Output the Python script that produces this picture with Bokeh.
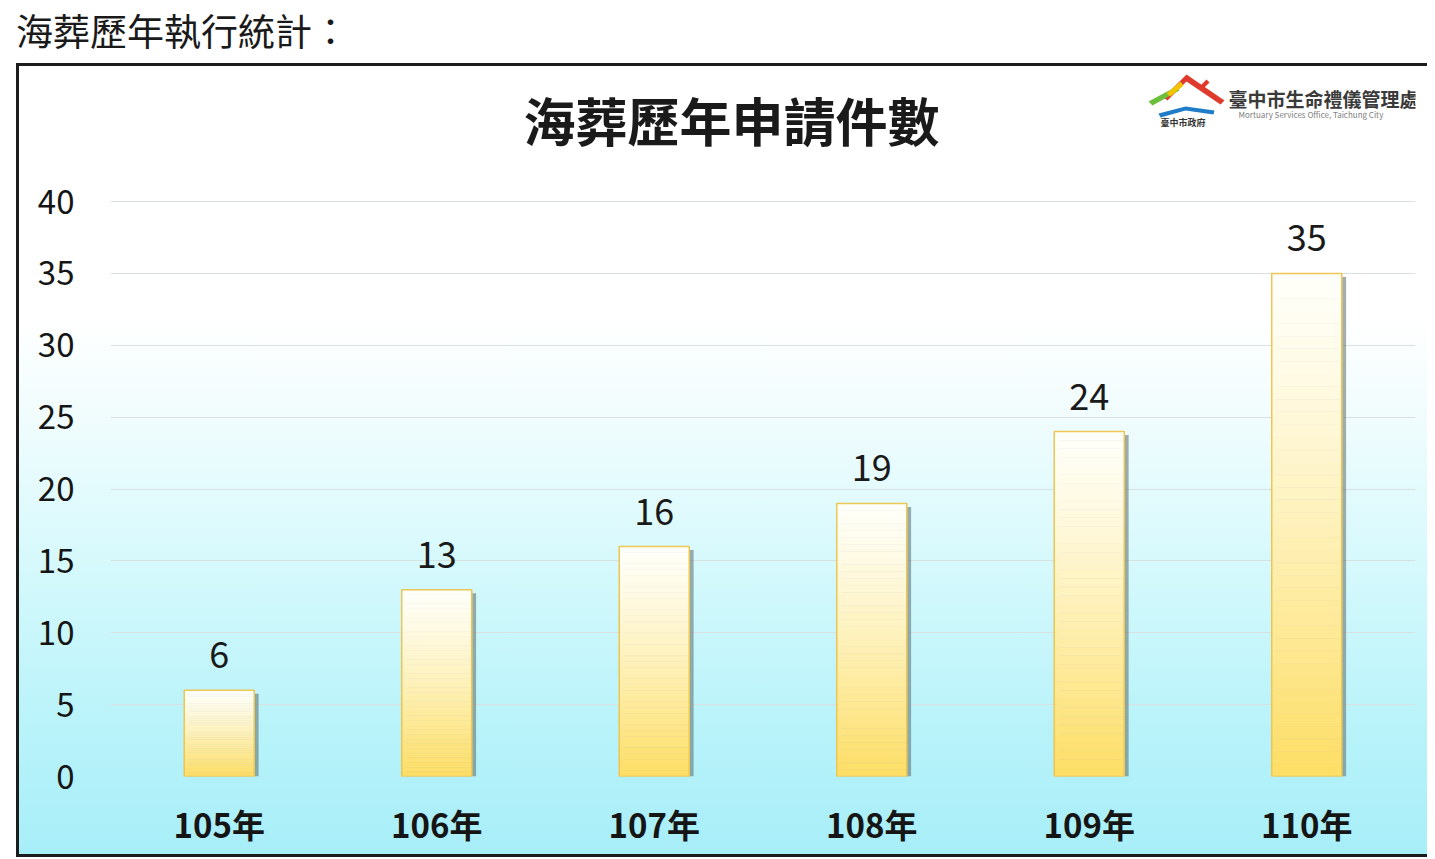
from bokeh.plotting import figure
from bokeh.models import Div, FactorRange, Range1d, FixedTicker, Label, PolyAnnotation
from bokeh.transform import dodge
from bokeh.layouts import column
from bokeh.core.properties import value
from bokeh.embed import file_html
from bokeh.resources import INLINE

# ---- data ----
years = ["105年", "106年", "107年", "108年", "109年", "110年"]
counts = [6, 13, 16, 19, 24, 35]
y_ticks = [0, 5, 10, 15, 20, 25, 30, 35, 40]
page_heading = "海葬歷年執行統計："
chart_title = "海葬歷年申請件數"
org_name = "臺中市生命禮儀管理處"
org_name_en = "Mortuary Services Office, Taichung City"
org_small = "臺中市政府"

FONT = "Noto Sans CJK TC"
W, H = 1427, 794
PX_PER_UNIT = 14.375
FRAME_H = 713
Y_TOP = FRAME_H / PX_PER_UNIT  # frame reaches top of the panel

p = figure(x_range=FactorRange(*years, range_padding=0), y_range=Range1d(0, Y_TOP),
           width=W, height=H, output_backend="svg", toolbar_location=None,
           min_border_left=110, min_border_right=12, min_border_top=0,
           min_border_bottom=H - FRAME_H)
p.border_fill_color = None
p.background_fill_color = None
p.outline_line_color = None
DARK = "#1c1c1c"
p.styles = {
    "background": ", ".join([
        f"linear-gradient({DARK},{DARK}) 16px 0 / 100% 3px no-repeat",
        f"linear-gradient({DARK},{DARK}) 16px 100% / 100% 3px no-repeat",
        f"linear-gradient({DARK},{DARK}) 16px 0 / 3px 100% no-repeat",
        "linear-gradient(#ffffff,#ffffff) 0 0 / 16px 100% no-repeat",
        "linear-gradient(to bottom, #ffffff 0%, #ffffff 32%, #f0fcfd 45%, #d6f9fc 63%, #bdf4fa 80%, #a7eef8 100%) 0 0 / 100% 100% no-repeat",
    ]),
}

# axes
for ax in (p.xaxis, p.yaxis):
    ax.axis_line_color = None
    ax.major_tick_line_color = None
    ax.minor_tick_line_color = None
    ax.major_label_text_font = FONT
    ax.major_label_text_color = "#151515"
p.yaxis.major_label_text_font_size = "33px"
p.xaxis.major_label_text_font_size = "33px"
p.yaxis.ticker = FixedTicker(ticks=y_ticks)
p.yaxis.major_label_standoff = 30
p.xaxis.major_label_standoff = 17
p.xaxis.major_label_text_font_style = "bold"
p.xgrid.grid_line_color = None
p.ygrid.ticker = FixedTicker(ticks=y_ticks)
p.ygrid.grid_line_color = "#d9e0e0"
p.ygrid.grid_line_width = 1

BW = 0.322
# shadow
p.vbar(x=dodge("x", 0.02, range=p.x_range), top="top", bottom=0, width=BW,
       source={"x": years, "top": [c - 0.25 for c in counts]},
       fill_color="#5b6b6b", fill_alpha=0.55, line_color=None)

# gradient bars: white at top to yellow at bottom
N = 40
top_rgb = (255, 255, 250)
bot_rgb = (253, 222, 100)
xs, tops, bots, cols = [], [], [], []
for yr, c in zip(years, counts):
    for i in range(N):
        b = c * i / N
        t = c * (i + 1) / N
        f = 1 - (i + 0.5) / N  # 0 at top, 1 at bottom
        f = f ** 1.2
        rgb = tuple(int(round(top_rgb[k] + (bot_rgb[k] - top_rgb[k]) * f)) for k in range(3))
        xs.append(yr); tops.append(t); bots.append(b)
        cols.append("#%02x%02x%02x" % rgb)
p.vbar(x="x", top="top", bottom="bottom", width=BW, fill_color="color", line_color="color",
       line_width=0.5, source={"x": xs, "top": tops, "bottom": bots, "color": cols})
p.vbar(x=years, top=counts, bottom=0, width=BW, fill_color=None, line_color="#eec653", line_width=1.5)

# value labels
p.text(x=years, y=counts, text=[str(c) for c in counts], text_align="center",
       text_baseline="alphabetic", y_offset=-35, text_font=value(FONT),
       text_font_size="36px", text_color="#1a1a1a")

# chart title & logo (screen units relative to frame: x = sx-110, y = 775-sy)
p.add_layout(Label(x=731 - 110, y=775 - 118, x_units="screen", y_units="screen", text=chart_title,
                   text_font=FONT, text_font_size="52px", text_font_style="bold",
                   text_color="#1a1a1a", text_align="center", text_baseline="middle"))

def pts(seq):
    return [sx - 110 for sx, sy in seq], [775 - sy for sx, sy in seq]

shapes = [
    ([(1163, 96), (1186, 73), (1224, 99), (1220, 103), (1186, 80), (1167, 99)], "#e03a2c"),
    ([(1198, 86), (1206, 78), (1209, 81), (1201, 89)], "#e03a2c"),
    ([(1148, 100), (1176, 85), (1179, 89), (1152, 104)], "#6cbf3a"),
    ([(1166, 92), (1180, 80), (1183, 84), (1170, 95)], "#f4c400"),
    ([(1158, 112), (1185, 105), (1214, 109), (1213, 113), (1185, 109), (1160, 116)], "#1e7cc8"),
]
for seq, col in shapes:
    xx, yy = pts(seq)
    p.add_layout(PolyAnnotation(xs=xx, ys=yy, xs_units="screen", ys_units="screen",
                                fill_color=col, fill_alpha=1, line_color=None))

p.add_layout(Label(x=1160 - 110, y=775 - 121, x_units="screen", y_units="screen", text=org_small,
                   text_font=FONT, text_font_size="9px", text_font_style="bold",
                   text_color="#333333", text_baseline="middle"))
p.add_layout(Label(x=1228 - 110, y=775 - 97, x_units="screen", y_units="screen", text=org_name,
                   text_font=FONT, text_font_size="19px", text_font_style="bold",
                   text_color="#3a3a3a", text_baseline="middle"))
p.add_layout(Label(x=1238 - 110, y=775 - 113, x_units="screen", y_units="screen", text=org_name_en,
                   text_font=FONT, text_font_size="8px",
                   text_color="#808080", text_baseline="middle"))

head = Div(text=page_heading, width=1395, height=53,
           styles={"font-family": FONT, "font-size": "37px", "color": "#1a1a1a",
                   "line-height": "40px", "padding-left": "11px", "padding-top": "5px",
                   "background": "#ffffff"})

layout = column(head, p, spacing=0)
open("out.html", "w").write(file_html(layout, INLINE))
